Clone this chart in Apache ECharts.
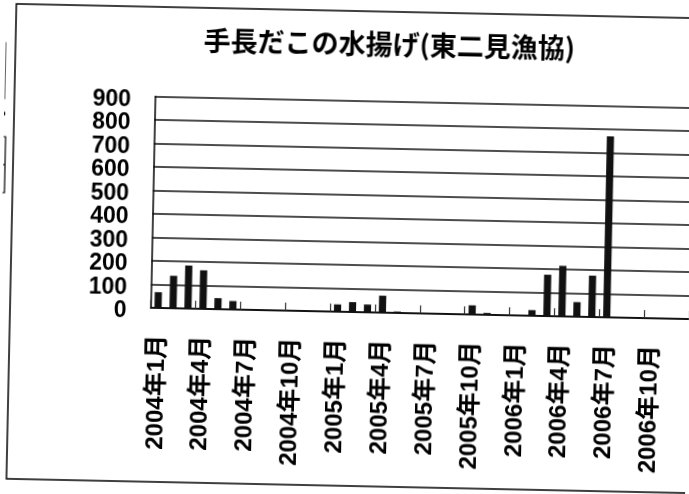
<!DOCTYPE html>
<html>
<head>
<meta charset="utf-8">
<script src="https://cdn.jsdelivr.net/npm/echarts@6/dist/echarts.min.js"></script>
<style>
html,body{margin:0;padding:0;background:#fff;overflow:hidden;}
#main{width:689px;height:494px;transform:rotate(1.2deg);transform-origin:400px 313px;}
</style>
</head>
<body>
<div id="main"></div>
<script>
var titleText = '手長だこの水揚げ(東二見漁協)';
var categories = [
  '2004年1月','2004年2月','2004年3月','2004年4月','2004年5月','2004年6月',
  '2004年7月','2004年8月','2004年9月','2004年10月','2004年11月','2004年12月',
  '2005年1月','2005年2月','2005年3月','2005年4月','2005年5月','2005年6月',
  '2005年7月','2005年8月','2005年9月','2005年10月','2005年11月','2005年12月',
  '2006年1月','2006年2月','2006年3月','2006年4月','2006年5月','2006年6月',
  '2006年7月','2006年8月','2006年9月','2006年10月','2006年11月','2006年12月'
];
var catch2004 = [67, 138, 183, 164, 47, 36, 0, 0, 0, 0, 0, 0];
var catch2005 = [31, 42, 33, 72, 6, 0, 0, 0, 0, 39, 8, 0];
var catch2006 = [0, 24, 176, 215, 62, 176, 770, 0, 0, 0, 0, 0];
var values = catch2004.concat(catch2005, catch2006);
var yTicks = [0, 100, 200, 300, 400, 500, 600, 700, 800, 900];

var chart = echarts.init(document.getElementById('main'), null, {renderer: 'canvas'});
chart.setOption({
  backgroundColor: '#fff',
  animation: false,
  title: {
    text: titleText,
    left: 198,
    top: 31,
    padding: 0,
    textStyle: {
      fontFamily: "'Noto Sans CJK JP'",
      fontSize: 27,
      fontWeight: 'bold',
      color: '#000'
    }
  },
  grid: {left: 150.5, right: -12, top: 101.5, bottom: 181, containLabel: false},
  xAxis: {
    type: 'category',
    data: categories,
    boundaryGap: true,
    axisLine: {show: true, lineStyle: {color: '#000', width: 1.5}},
    axisTick: {show: true, interval: 2, inside: true, length: 8, alignWithLabel: false,
               lineStyle: {color: '#333', width: 1.2}},
    axisLabel: {
      interval: 2,
      rotate: 90,
      margin: 27,
      fontSize: 24,
      fontWeight: 'bold',
      fontFamily: "'Liberation Sans','Noto Sans CJK JP'",
      color: '#000'
    },
    splitLine: {show: false}
  },
  yAxis: {
    type: 'value',
    min: yTicks[0],
    max: yTicks[yTicks.length - 1],
    interval: 100,
    axisLine: {show: true, lineStyle: {color: '#000', width: 1.5}},
    axisTick: {show: false},
    axisLabel: {
      margin: 24,
      fontSize: 23,
      fontWeight: 'bold',
      fontFamily: "'Liberation Sans'",
      color: '#000',
      verticalAlign: 'top',
      lineHeight: 8,
      showMinLabel: true,
      showMaxLabel: true,
      hideOverlap: false
    },
    splitLine: {show: true, lineStyle: {color: '#111', width: 1.5}}
  },
  series: [{
    type: 'bar',
    data: values,
    barWidth: '48%',
    itemStyle: {color: '#111'}
  }],
  graphic: [
    {type: 'rect', shape: {x: 10, y: 12, width: 720, height: 475},
     style: {fill: 'none', stroke: '#000', lineWidth: 1.5}},
    {type: 'rect', shape: {x: -10, y: 51, width: 10, height: 56},
     style: {fill: 'none', stroke: '#000', lineWidth: 1.2}},
    {type: 'line', shape: {x1: -5, y1: 80, x2: 0, y2: 80},
     style: {stroke: '#000', lineWidth: 1.2}},
    {type: 'rect', shape: {x: -8, y: 145, width: 10, height: 56},
     style: {fill: 'none', stroke: '#000', lineWidth: 1.2}},
    {type: 'line', shape: {x1: -3, y1: 173, x2: 2, y2: 173},
     style: {stroke: '#000', lineWidth: 1.2}},
    {type: 'text', x: -6, y: 118,
     style: {text: '?', fontSize: 14, fontFamily: "'Liberation Sans'", fill: '#000'}}
  ]
});
</script>
</body>
</html>
